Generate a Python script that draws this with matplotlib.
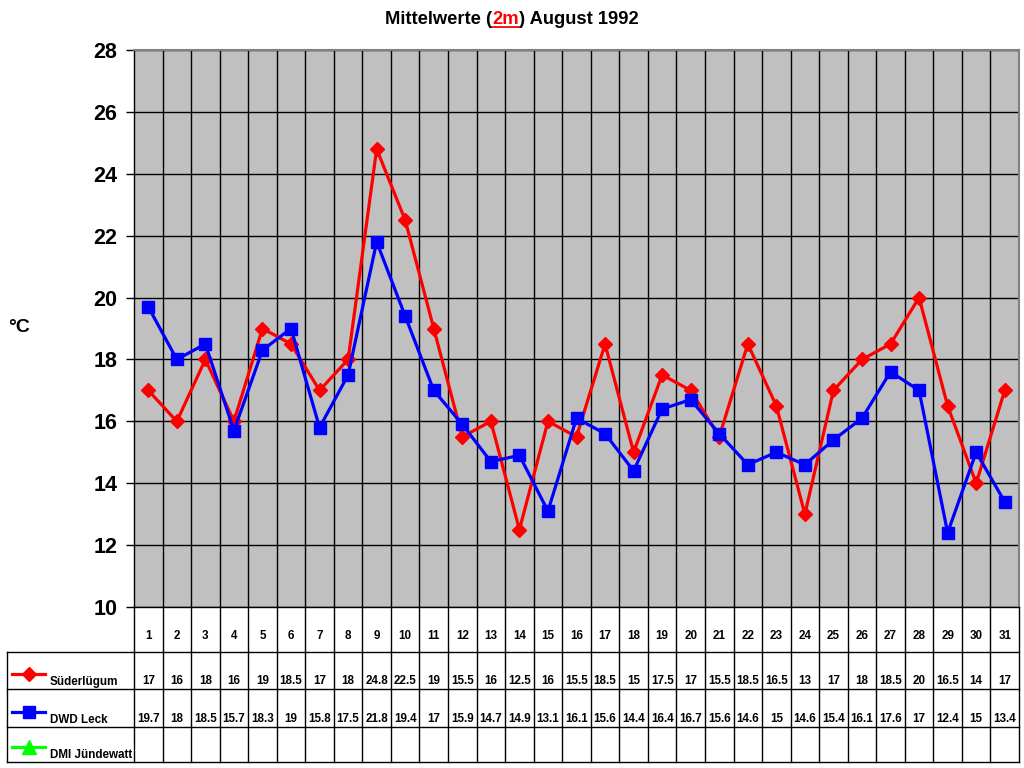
import numpy as np
import matplotlib
matplotlib.use('Agg')
import matplotlib.pyplot as plt
from matplotlib.lines import Line2D

plt.rcParams['font.family'] = ['Liberation Sans', 'DejaVu Sans']
plt.rcParams['font.weight'] = 'bold'

# Daily means, August 1992
days = list(range(1, 32))
suederluegum = [17, 16, 18, 16, 19, 18.5, 17, 18, 24.8, 22.5, 19, 15.5, 16, 12.5, 16, 15.5,
                18.5, 15, 17.5, 17, 15.5, 18.5, 16.5, 13, 17, 18, 18.5, 20, 16.5, 14, 17]
dwd_leck = [19.7, 18, 18.5, 15.7, 18.3, 19, 15.8, 17.5, 21.8, 19.4, 17, 15.9, 14.7, 14.9, 13.1, 16.1,
            15.6, 14.4, 16.4, 16.7, 15.6, 14.6, 15, 14.6, 15.4, 16.1, 17.6, 17, 12.4, 15, 13.4]
dmi_juendewatt = [None] * 31

series = [
    ('Süderlügum', suederluegum, '#FF0000', 'D', 7.5),
    ('DWD Leck', dwd_leck, '#0000FF', 's', 8.5),
    ('DMI Jündewatt', dmi_juendewatt, '#00FF00', '^', 9.5),
]

W, H = 1024, 768
fig = plt.figure(figsize=(W / 100, H / 100), dpi=100)

# layout in pixels
px_left, px_right, px_top, px_bottom = 134, 1019, 50, 607
ax = fig.add_axes([px_left / W, 1 - px_bottom / H, (px_right - px_left) / W, (px_bottom - px_top) / H])
ax.set_facecolor('#C0C0C0')

x = np.arange(len(days))
for name, vals, color, marker, ms in series:
    v = np.array([np.nan if a is None else a for a in vals], dtype=float)
    ax.plot(x, v, color=color, lw=2.3, marker=marker, markersize=ms, zorder=3)

ax.set_xlim(-0.5, len(days) - 0.5)
ax.set_ylim(10, 28)
ax.set_yticks(np.arange(10, 29, 2))
ax.set_yticklabels([str(t) for t in range(10, 29, 2)], fontsize=15.5, fontweight='bold')
ax.tick_params(axis='y', direction='out', length=6, width=1, color='black', pad=6)
ax.set_xticks(np.arange(0.5, len(days) - 1, 1))
ax.set_xticklabels([])
ax.tick_params(axis='x', length=0)
ax.grid(True, color='black', lw=1)
ax.set_axisbelow(True)
for s in ['top', 'right']:
    ax.spines[s].set_color('#808080')
    ax.spines[s].set_linewidth(1.5)
for s in ['left', 'bottom']:
    ax.spines[s].set_color('black')
    ax.spines[s].set_linewidth(1)

fig.text(8 / W, 1 - 328 / H, '°C', fontsize=14, fontweight='bold', va='center', ha='left')

# data table below the chart (pixel coordinates)
tb = fig.add_axes([0, 0, 1, 1], zorder=-1)
tb.set_xlim(0, W)
tb.set_ylim(H, 0)
tb.axis('off')
colw = (px_right - px_left) / len(days)
row_lines = [652, 689, 727, 762]
lc = dict(color='black', lw=1)
for k in range(len(days) + 1):
    xx = px_left + k * colw
    tb.add_line(Line2D([xx, xx], [px_bottom, row_lines[-1]], **lc))
tb.add_line(Line2D([7, 7], [row_lines[0], row_lines[-1]], **lc))
for yy in row_lines:
    tb.add_line(Line2D([7, px_right], [yy, yy], **lc))

fs_tab = 8.4
for i, d in enumerate(days):
    tb.text(px_left + (i + 0.5) * colw, 636, str(d), ha='center', va='center', fontsize=fs_tab, fontweight='bold')

for r, (name, vals, color, marker, ms) in enumerate(series):
    y_bot = row_lines[r + 1]
    yl = y_bot - 15
    tb.plot([12, 45], [yl, yl], color=color, lw=2.3)
    tb.plot([28.5], [yl], color=color, marker=marker, markersize=ms, ls='none')
    tb.text(50, y_bot - 7, name, ha='left', va='center', fontsize=fs_tab, fontweight='bold')
    for i, v in enumerate(vals):
        if v is None:
            continue
        tb.text(px_left + (i + 0.5) * colw, y_bot - 8, f'{v:g}', ha='center', va='center',
                fontsize=fs_tab, fontweight='bold')

# title with red underlined part
t1 = fig.text(385 / W, 1 - 20 / H, 'Mittelwerte (', fontsize=13.2, fontweight='bold', va='center', ha='left')
t2 = fig.text(0, 0, '2m', fontsize=13.2, fontweight='bold', color='#FF0000', va='center', ha='left')
t3 = fig.text(0, 0, ') August 1992', fontsize=13.2, fontweight='bold', va='center', ha='left')
fig.canvas.draw()
r = fig.canvas.get_renderer()
inv = fig.transFigure.inverted()
b1 = t1.get_window_extent(r)
t2.set_position(inv.transform((b1.x1, b1.y0 + b1.height / 2)))
b2 = t2.get_window_extent(r)
t3.set_position(inv.transform((b2.x1, b2.y0 + b2.height / 2)))
b3 = t3.get_window_extent(r)
shift = (W / 2 - (b1.x0 + b3.x1) / 2) / W
for t in (t1, t2, t3):
    px, py = t.get_position()
    t.set_position((px + shift, py))
fig.canvas.draw()
b2 = t2.get_window_extent(r)
uy = b2.y0 + 2
pts = inv.transform([(b2.x0, uy), (b2.x1, uy)])
fig.add_artist(Line2D(pts[:, 0], pts[:, 1], transform=fig.transFigure, color='#FF0000', lw=1.3))

fig.savefig('out.png', dpi=100)
